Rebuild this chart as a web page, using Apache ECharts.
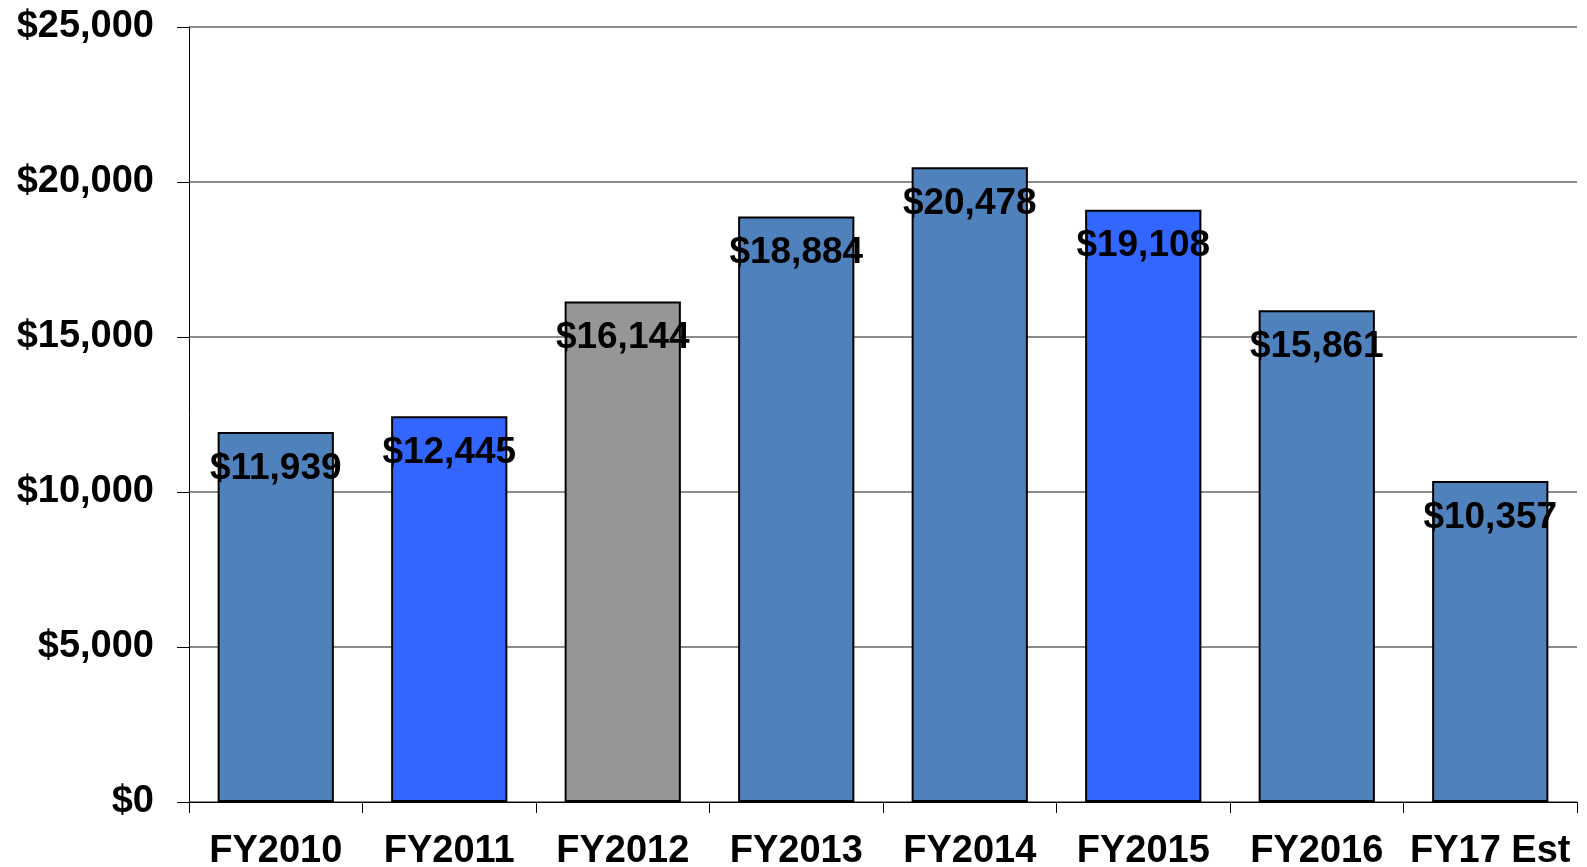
<!DOCTYPE html>
<html>
<head>
<meta charset="utf-8">
<script src="https://cdn.jsdelivr.net/npm/echarts@6/dist/echarts.min.js"></script>
<style>
  html, body { margin: 0; padding: 0; background: #fff; }
  #main { width: 1587px; height: 867px; }
</style>
</head>
<body>
<div id="main"></div>
<script>
// data
var years = ['FY2010', 'FY2011', 'FY2012', 'FY2013', 'FY2014', 'FY2015', 'FY2016', 'FY17 Est'];
var amounts = [11939, 12445, 16144, 18884, 20478, 19108, 15861, 10357];
var barColors = ['#4f81bd', '#3366ff', '#969696', '#4f81bd', '#4f81bd', '#3366ff', '#4f81bd', '#4f81bd'];

var chart = echarts.init(document.getElementById('main'));

function money(v) {
    return '$' + v.toLocaleString('en-US');
}

var font = '"Liberation Sans", Arial, sans-serif';

option = {
    animation: false,
    grid: {
        left: 189,
        right: 10,
        top: 27,
        bottom: 65,
        outerBoundsMode: 'none'
    },
    xAxis: {
        type: 'category',
        data: years,
        axisLine: { lineStyle: { color: '#000', width: 1 } },
        axisTick: { show: true, length: 11, lineStyle: { color: '#000' } },
        axisLabel: {
            color: '#000',
            fontFamily: font,
            fontWeight: 'bold',
            fontSize: 38,
            margin: 31,
            interval: 0
        }
    },
    yAxis: {
        type: 'value',
        min: 0,
        max: 25000,
        interval: 5000,
        axisLine: { show: true, lineStyle: { color: '#000', width: 1 } },
        axisTick: { show: true, length: 12, lineStyle: { color: '#000' } },
        splitLine: { lineStyle: { color: '#8c8c8c', width: 2 } },
        axisLabel: {
            color: '#000',
            fontFamily: font,
            fontWeight: 'bold',
            fontSize: 38,
            margin: 35,
            formatter: money
        }
    },
    series: [
        {
            type: 'bar',
            barCategoryGap: '33%',
            data: amounts.map(function (v, i) {
                return { value: v, itemStyle: { color: barColors[i] } };
            }),
            itemStyle: {
                borderColor: '#000',
                borderWidth: 2
            },
            label: {
                show: true,
                position: 'insideTop',
                distance: 18,
                color: '#000',
                fontFamily: font,
                fontWeight: 'bold',
                fontSize: 37,
                formatter: function (p) { return money(p.value); }
            }
        }
    ]
};

chart.setOption(option);

window.addEventListener('resize', function () {
    chart.resize();
});
</script>
</body>
</html>
